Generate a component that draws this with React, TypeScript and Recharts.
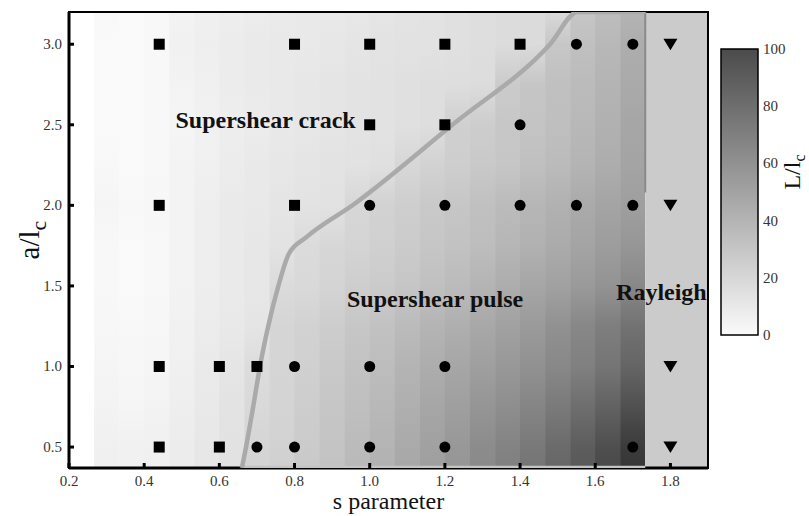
import React from 'react';
import {
  ScatterChart,
  Scatter,
  XAxis,
  YAxis,
  ReferenceArea,
  ReferenceDot,
} from 'recharts';

// axes
const sTicks = [0.2, 0.4, 0.6, 0.8, 1.0, 1.2, 1.4, 1.6, 1.8];
const aTicks = [0.5, 1.0, 1.5, 2.0, 2.5, 3.0];
const sDomain: [number, number] = [0.2, 1.9];
const aDomain: [number, number] = [0.37, 3.2];

// heat map: column centres (s) and row nodes (a), values are L/l_c
const sCells = [0.233, 0.3, 0.367, 0.433, 0.5, 0.567, 0.633, 0.7, 0.767, 0.833, 0.9, 0.967, 1.033, 1.1, 1.167, 1.233, 1.3, 1.367, 1.433, 1.5, 1.567, 1.633, 1.7];
const aRows = [3.2, 3.0, 2.75, 2.5, 2.25, 2.0, 1.75, 1.5, 1.25, 1.0, 0.75, 0.5, 0.37];

const lc320 = [4, 1, 0, 1, 4, 6, 7, 8, 9, 10, 10, 11, 12, 13, 14, 15, 16, 17, 18, 19, 30, 35, 40];
const lc300 = [3, 0, 0, 1, 5, 7, 8, 9, 10, 10, 11, 12, 13, 14, 14, 15, 16, 17, 18, 29, 33, 38, 44];
const lc275 = [4, 0, 0, 1, 4, 6, 8, 9, 10, 11, 12, 13, 14, 15, 16, 16, 17, 27, 30, 33, 36, 40, 46];
const lc250 = [4, 0, 0, 1, 3, 5, 7, 8, 10, 11, 12, 13, 14, 15, 16, 24, 26, 29, 31, 34, 38, 42, 48];
const lc225 = [5, 1, 0, 1, 4, 6, 8, 10, 11, 12, 13, 14, 15, 20, 23, 25, 28, 30, 33, 36, 40, 44, 49];
const lc200 = [7, 3, 1, 2, 4, 7, 9, 10, 12, 13, 14, 20, 23, 25, 28, 30, 33, 36, 39, 42, 46, 49, 52];
const lc175 = [5, 1, 0, 1, 4, 7, 9, 11, 13, 18, 20, 22, 24, 27, 30, 32, 35, 39, 42, 45, 49, 53, 57];
const lc150 = [5, 1, 0, 1, 4, 7, 9, 11, 18, 19, 22, 25, 27, 30, 33, 36, 40, 44, 48, 51, 55, 59, 65];
const lc125 = [5, 2, 1, 2, 5, 8, 10, 12, 21, 23, 26, 29, 32, 36, 40, 43, 47, 51, 55, 60, 66, 71, 78];
const lc100 = [6, 3, 2, 3, 6, 9, 12, 17, 21, 24, 28, 32, 35, 40, 44, 48, 52, 56, 60, 65, 70, 76, 85];
const lc075 = [6, 4, 3, 4, 7, 10, 13, 19, 22, 26, 30, 34, 38, 43, 48, 52, 58, 62, 67, 73, 80, 87, 97];
const lc050 = [7, 6, 5, 6, 8, 11, 14, 21, 23, 27, 31, 36, 40, 46, 51, 56, 63, 68, 74, 82, 90, 98, 109];
const lc037 = [7, 6, 5, 6, 8, 11, 14, 22, 24, 28, 32, 37, 41, 47, 52, 57, 64, 70, 76, 84, 92, 101, 112];
const lcRows = [lc320, lc300, lc275, lc250, lc225, lc200, lc175, lc150, lc125, lc100, lc075, lc050, lc037];

// Rayleigh zone starts here
const rayleighFrom = 1.733;

// crack / pulse transition curve
const boundaryS = [0.66, 0.671, 0.69, 0.708, 0.73, 0.757, 0.785, 0.83, 0.96, 1.22, 1.48, 1.553, 1.733];
const boundaryA = [0.37, 0.5, 0.75, 1.0, 1.25, 1.5, 1.7, 1.8, 2.01, 2.5, 3.0, 3.2, 3.2];
const edgeS = [1.733, 1.733];
const edgeA = [3.2, 2.08];
const floorS = [0.66, 1.733];
const floorA = [0.375, 0.375];

// simulation markers
const crackS = [0.44, 0.8, 1.0, 1.2, 1.4, 1.0, 1.2, 0.44, 0.8, 0.44, 0.6, 0.7, 0.44, 0.6];
const crackA = [3.0, 3.0, 3.0, 3.0, 3.0, 2.5, 2.5, 2.0, 2.0, 1.0, 1.0, 1.0, 0.5, 0.5];
const pulseS = [1.55, 1.7, 1.4, 1.0, 1.2, 1.4, 1.55, 1.7, 0.8, 1.0, 1.2, 0.7, 0.8, 1.0, 1.2, 1.7];
const pulseA = [3.0, 3.0, 2.5, 2.0, 2.0, 2.0, 2.0, 2.0, 1.0, 1.0, 1.0, 0.5, 0.5, 0.5, 0.5, 0.5];
const rayleighS = [1.8, 1.8, 1.8, 1.8];
const rayleighA = [3.0, 2.0, 1.0, 0.5];

// region labels
const regionNames = ['Supershear crack', 'Supershear pulse', 'Rayleigh'];
const regionS = [0.723, 1.174, 1.776];
const regionA = [2.53, 1.42, 1.46];

// colour bar
const cbarTicks = [0, 20, 40, 60, 80, 100];

const SERIF = '"Liberation Serif", "Times New Roman", serif';

const gray = (v: number) => {
  const g = Math.max(0, Math.min(255, Math.round(250 - 1.75 * v)));
  return `rgb(${g},${g},${g})`;
};

const zip = (xs: number[], ys: number[]) => xs.map((s, i) => ({ s, a: ys[i] }));

const Square = (p: any) => <rect x={p.cx - 5.5} y={p.cy - 5.5} width={11} height={11} fill="#000" />;
const Dot = (p: any) => <circle cx={p.cx} cy={p.cy} r={5.5} fill="#000" />;
const Tri = (p: any) => (
  <path d={`M${p.cx - 7},${p.cy - 5.5} L${p.cx + 7},${p.cy - 5.5} L${p.cx},${p.cy + 6} Z`} fill="#000" />
);
const Nothing = () => <g />;

const XTick = (p: any) => (
  <g>
    <line x1={p.x} y1={p.y} x2={p.x} y2={p.y - 5} stroke="#000" strokeWidth={3} />
    <text x={p.x} y={p.y + 18} textAnchor="middle" fontSize={15} fill="#333" fontFamily={SERIF}>
      {Number(p.payload.value).toFixed(1)}
    </text>
  </g>
);

const YTick = (p: any) => (
  <g>
    <line x1={p.x} y1={p.y} x2={p.x + 5} y2={p.y} stroke="#000" strokeWidth={3} />
    <text x={p.x - 7} y={p.y + 5} textAnchor="end" fontSize={15} fill="#333" fontFamily={SERIF}>
      {Number(p.payload.value).toFixed(1)}
    </text>
  </g>
);

const CTick = (p: any) => (
  <text x={p.x + 5} y={p.y + 5} textAnchor="start" fontSize={15} fill="#333" fontFamily={SERIF}>
    {p.payload.value}
  </text>
);

const App = () => {
  const half = 1 / 30;
  const span = aDomain[1] - aDomain[0];

  return (
    <div style={{ position: 'absolute', left: 0, top: 0, width: 809, height: 516, background: '#fff' }}>
      <ScatterChart width={809} height={516} margin={{ top: 12, right: 101, bottom: 18, left: 20 }}>
        <defs>
          {sCells.map((s, k) => (
            <linearGradient key={k} id={`col${k}`} x1="0" y1="0" x2="0" y2="1">
              {aRows.map((a, i) => (
                <stop key={i} offset={(aDomain[1] - a) / span} stopColor={gray(lcRows[i][k])} />
              ))}
            </linearGradient>
          ))}
        </defs>
        <XAxis
          type="number"
          dataKey="s"
          domain={sDomain}
          ticks={sTicks}
          interval={0}
          allowDataOverflow
          height={30}
          tickSize={0}
          tickMargin={0}
          tick={<XTick />}
          axisLine={{ stroke: '#000', strokeWidth: 3 }}
          label={{
            content: (lp: any) => (
              <text
                x={lp.viewBox.x + lp.viewBox.width / 2}
                y={lp.viewBox.y + 41}
                textAnchor="middle"
                fontSize={24}
                fill="#111"
                fontFamily={SERIF}
              >
                s parameter
              </text>
            ),
          }}
        />
        <YAxis
          type="number"
          dataKey="a"
          domain={aDomain}
          ticks={aTicks}
          interval={0}
          allowDataOverflow
          width={49}
          tickSize={0}
          tickMargin={0}
          tick={<YTick />}
          axisLine={{ stroke: '#000', strokeWidth: 3 }}
          label={{
            content: (lp: any) => {
              const x = lp.viewBox.x + 19;
              const y = lp.viewBox.y + lp.viewBox.height / 2;
              return (
                <text
                  x={x}
                  y={y}
                  transform={`rotate(-90, ${x}, ${y})`}
                  textAnchor="middle"
                  fontSize={29}
                  fill="#111"
                  fontFamily={SERIF}
                >
                  a/l
                  <tspan dy={7} fontSize={22}>c</tspan>
                </text>
              );
            },
          }}
        />

        {sCells.map((s, k) => (
          <ReferenceArea
            key={k}
            x1={s - half}
            x2={Math.min(s + half + 0.002, rayleighFrom)}
            y1={aDomain[0]}
            y2={aDomain[1]}
            fill={`url(#col${k})`}
            fillOpacity={1}
            stroke="none"
          />
        ))}
        <ReferenceArea
          x1={rayleighFrom}
          x2={sDomain[1]}
          y1={aDomain[0]}
          y2={aDomain[1]}
          fill="#cbcbcb"
          fillOpacity={1}
          stroke="none"
        />
        <ReferenceArea
          x1={sDomain[0]}
          x2={sDomain[1]}
          y1={aDomain[0]}
          y2={aDomain[1]}
          fill="none"
          stroke="#000"
          strokeWidth={2}
        />

        <Scatter
          data={zip(floorS, floorA)}
          line={{ stroke: '#c4c4c4', strokeWidth: 3 }}
          shape={<Nothing />}
          isAnimationActive={false}
        />
        <Scatter
          data={zip(edgeS, edgeA)}
          line={{ stroke: '#8a8a8a', strokeWidth: 2 }}
          shape={<Nothing />}
          isAnimationActive={false}
        />
        <Scatter
          data={zip(boundaryS, boundaryA)}
          line={{ stroke: '#aaaaaa', strokeWidth: 4.5 }}
          lineJointType="monotoneX"
          shape={<Nothing />}
          isAnimationActive={false}
        />

        <Scatter data={zip(crackS, crackA)} shape={<Square />} isAnimationActive={false} />
        <Scatter data={zip(pulseS, pulseA)} shape={<Dot />} isAnimationActive={false} />
        <Scatter data={zip(rayleighS, rayleighA)} shape={<Tri />} isAnimationActive={false} />

        {regionNames.map((name, i) => (
          <ReferenceDot
            key={name}
            x={regionS[i]}
            y={regionA[i]}
            r={0}
            stroke="none"
            fill="none"
            label={{
              content: (lp: any) => (
                <text
                  x={lp.viewBox.x}
                  y={lp.viewBox.y + 8}
                  textAnchor="middle"
                  fontSize={24}
                  fontWeight="bold"
                  fill="#111"
                  fontFamily={SERIF}
                >
                  {name}
                </text>
              ),
            }}
          />
        ))}
      </ScatterChart>

      <div style={{ position: 'absolute', left: 700, top: 0 }}>
        <ScatterChart width={109} height={516} margin={{ top: 49, right: 21, bottom: 181, left: 21 }}>
          <defs>
            <linearGradient id="cbarFill" x1="0" y1="1" x2="0" y2="0">
              {cbarTicks.map((v) => (
                <stop key={v} offset={v / 100} stopColor={gray(v)} />
              ))}
            </linearGradient>
          </defs>
          <XAxis type="number" dataKey="x" domain={[0, 1]} hide />
          <YAxis
            type="number"
            dataKey="v"
            orientation="right"
            domain={[0, 100]}
            ticks={cbarTicks}
            interval={0}
            width={30}
            tickSize={0}
            tickMargin={0}
            axisLine={false}
            tick={<CTick />}
            label={{
              content: (lp: any) => {
                const x = lp.viewBox.x + 42;
                const y = 172;
                return (
                  <text
                    x={x}
                    y={y}
                    transform={`rotate(-90, ${x}, ${y})`}
                    textAnchor="middle"
                    fontSize={24}
                    fill="#111"
                    fontFamily={SERIF}
                  >
                    L/l
                    <tspan dy={5} fontSize={16}>c</tspan>
                  </text>
                );
              },
            }}
          />
          <ReferenceArea
            x1={0}
            x2={1}
            y1={0}
            y2={100}
            fill="url(#cbarFill)"
            fillOpacity={1}
            stroke="#000"
            strokeWidth={1.5}
          />
          <Scatter
            data={cbarTicks.map((v) => ({ x: 0.5, v }))}
            shape={<Nothing />}
            isAnimationActive={false}
          />
        </ScatterChart>
      </div>
    </div>
  );
};

export default App;
